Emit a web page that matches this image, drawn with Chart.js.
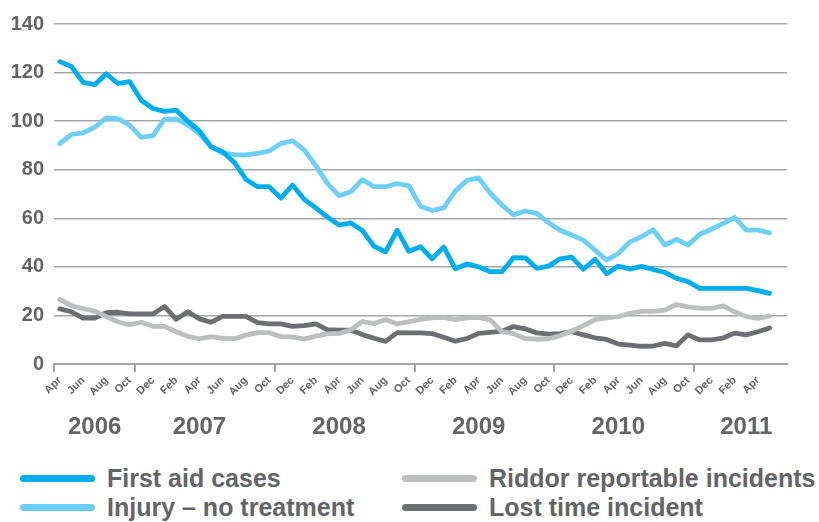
<!DOCTYPE html>
<html>
<head>
<meta charset="utf-8">
<script src="https://cdn.jsdelivr.net/npm/chart.js@4.4.0/dist/chart.umd.min.js"></script>
<style>
  html, body { margin: 0; padding: 0; background: #fff; }
  #wrap { position: relative; width: 819px; height: 522px; overflow: hidden; }
  #my-chart { position: absolute; left: 0; top: 0; }
  .legend-item {
    position: absolute; display: flex; align-items: center; height: 29px;
    font: bold 25px 'Liberation Sans', Arial, sans-serif; color: #636466; white-space: nowrap;
  }
  .legend-item .swatch { width: 75px; height: 7px; border-radius: 4px; margin-right: 12px; }
</style>
</head>
<body>
<div id="wrap">
  <canvas id="my-chart" width="819" height="440"></canvas>
  <div id="legend"></div>
</div>
<script>
'use strict';

// #pragma Data

let monthNames = ['Jan', 'Feb', 'Mar', 'Apr', 'May', 'Jun', 'Jul', 'Aug', 'Sep', 'Oct', 'Nov', 'Dec'];
let years = ['2006', '2007', '2008', '2009', '2010', '2011'];
let yearTickIndex = [3, 12, 24, 36, 48, 59];

let firstAid = [124.5, 122.5, 116, 115, 119.5, 115.5, 116.3, 108.6, 105.2, 104,
  104.5, 100, 96, 89.4, 87.4, 83, 76, 73, 73, 68.3,
  73.7, 67.8, 64.3, 60.5, 57.2, 58.1, 55, 48.5, 46.2, 55.1,
  46.4, 48.3, 43.3, 48.2, 39.2, 41.2, 40, 38, 38, 43.8,
  43.7, 39.4, 40.3, 43.3, 44, 39, 43.1, 37.2, 40.3, 39.1,
  40.2, 38.9, 37.7, 35.3, 33.9, 31.1, 31.1, 31.1, 31.1, 31.1,
  30.2, 29.1];

let injury = [90.8, 94.5, 95.2, 97.5, 101.3, 101, 98.4, 93.3, 94, 100.8,
  100.8, 98.5, 94.8, 89.5, 86.8, 86.2, 86.1, 86.7, 87.7, 90.8,
  91.9, 88.2, 81.7, 74.4, 69.3, 70.9, 75.9, 73, 73, 74.3,
  73.4, 65, 63.2, 64.3, 71.3, 75.6, 76.6, 70.3, 65.4, 61.4,
  63, 62, 58.2, 55.1, 53.1, 51, 46.9, 42.8, 45.5, 50.3,
  52.4, 55.3, 49, 51.3, 49, 53.4, 55.5, 57.8, 60.4, 55.1,
  55.1, 54];

let riddor = [26.6, 24, 22.8, 21.8, 19.5, 17.3, 16.2, 17.2, 15.5, 15.5,
  13.3, 11.4, 10.4, 11.3, 10.6, 10.4, 11.9, 12.9, 12.9, 11.2,
  11.2, 10.3, 11.5, 12.4, 12.6, 14, 17.5, 16.6, 18.3, 16.5,
  17.4, 18.4, 19, 19.2, 18.3, 19, 19.2, 18.1, 13.3, 12.5,
  10.5, 10.2, 10.4, 11.7, 13.5, 15.8, 18.3, 19, 19.5, 20.9,
  21.7, 21.7, 22.2, 24.5, 23.5, 23, 22.9, 23.9, 21.5, 19.5,
  18.8, 19.8];

let lostTime = [22.7, 21.5, 18.9, 18.9, 21.1, 21.3, 20.6, 20.6, 20.6, 23.7,
  18.4, 21.5, 18.6, 17.2, 19.6, 19.6, 19.6, 17, 16.5, 16.5,
  15.5, 15.8, 16.5, 14.1, 13.9, 13.9, 12.1, 10.6, 9.3, 12.9,
  12.8, 12.8, 12.5, 11, 9.4, 10.5, 12.6, 13, 13.5, 15.4,
  14.5, 12.8, 12.3, 12.5, 13.3, 12, 10.8, 10.1, 8.2, 7.8,
  7.3, 7.4, 8.5, 7.5, 12, 9.9, 9.9, 10.7, 12.7, 12,
  13.3, 14.8];

// #pragma Categories (Apr 2006 .. Jun 2011)

let monthLabels = [];
let yearLabels = [];
for (let i = 0; i < 63; i++) {
  monthLabels.push(monthNames[(3 + i) % 12]);
  yearLabels.push('');
}
for (let i = 0; i < years.length; i++) {
  yearLabels[yearTickIndex[i]] = years[i];
}

// year dividers sit between Oct and Nov
let dividerIndex = [0, 7, 19, 31, 43, 55, 63];
// the printed axis stops labelling at Apr 2011
let lastLabelIndex = 60;

// #pragma Styles

let textGrey = '#636466';
let gridGrey = '#a3a5a8';

let series = [
  { label: 'First aid cases', data: firstAid, color: '#00aeef' },
  { label: 'Injury – no treatment', data: injury, color: '#6dcff6' },
  { label: 'Riddor reportable incidents', data: riddor, color: '#bcbec0' },
  { label: 'Lost time incident', data: lostTime, color: '#6d6e71' },
];

function isDivider(ctx) {
  return dividerIndex.includes(ctx.index);
}

// #pragma Chart

let chartContext = document.getElementById('my-chart').getContext('2d');

let datasets = series.map(function (s) {
  return {
    label: s.label,
    data: s.data,
    borderColor: s.color,
    backgroundColor: s.color,
    borderWidth: 4.8,
    pointRadius: 0,
    tension: 0,
    borderJoinStyle: 'round',
    borderCapStyle: 'round',
  };
});

let chartConfig = {
  type: 'line',
  data: {
    labels: monthLabels,
    datasets: datasets,
  },
  options: {
    responsive: false,
    animation: false,
    layout: { padding: { top: 24, right: 32, bottom: 0, left: 0 } },
    plugins: {
      legend: { display: false },
      tooltip: { enabled: false },
    },
    scales: {
      x: {
        type: 'category',
        offset: true,
        weight: 0,
        border: { display: true, color: gridGrey, width: 2 },
        grid: {
          offset: true,
          drawOnChartArea: false,
          drawTicks: true,
          tickLength: 8,
          color: gridGrey,
          tickColor: gridGrey,
          lineWidth: function (ctx) { return isDivider(ctx) ? 2 : 0; },
          tickWidth: function (ctx) { return isDivider(ctx) ? 2 : 0; },
        },
        ticks: {
          autoSkip: false,
          minRotation: 45,
          maxRotation: 45,
          padding: 2,
          color: textGrey,
          font: { family: "'Liberation Sans', Arial, sans-serif", size: 11, weight: 'bold' },
          callback: function (value, index) {
            return (index % 2 === 0 && index <= lastLabelIndex) ? monthLabels[index] : '';
          },
        },
        afterFit: function (scale) { scale.height = 38; },
      },
      x2: {
        type: 'category',
        labels: yearLabels,
        position: 'bottom',
        offset: true,
        weight: 1,
        border: { display: false },
        grid: { display: false },
        ticks: {
          autoSkip: false,
          maxRotation: 0,
          minRotation: 0,
          padding: 3,
          color: textGrey,
          font: { family: "'Liberation Sans', Arial, sans-serif", size: 24, weight: 'bold' },
        },
        afterFit: function (scale) { scale.height = 38; },
      },
      y: {
        min: 0,
        max: 140,
        border: { display: false },
        grid: { color: gridGrey, lineWidth: 1.5, drawTicks: false },
        ticks: {
          stepSize: 20,
          padding: 10,
          color: textGrey,
          font: { family: "'Liberation Sans', Arial, sans-serif", size: 20, weight: 'bold' },
        },
        afterFit: function (scale) { scale.width = 54; },
      },
    },
  },
};

let myChart = new Chart(chartContext, chartConfig);

// #pragma Legend (two columns, like the printed key)

let legendBox = document.getElementById('legend');
let legendOrder = [0, 2, 1, 3];
let legendLeft = [20, 402];
let legendTop = [464, 493];

for (let k = 0; k < legendOrder.length; k++) {
  let s = series[legendOrder[k]];
  let item = document.createElement('div');
  item.className = 'legend-item';
  item.style.left = legendLeft[k % 2] + 'px';
  item.style.top = legendTop[Math.floor(k / 2)] + 'px';
  let swatch = document.createElement('span');
  swatch.className = 'swatch';
  swatch.style.background = s.color;
  let text = document.createElement('span');
  text.textContent = s.label;
  item.appendChild(swatch);
  item.appendChild(text);
  legendBox.appendChild(item);
}
</script>
</body>
</html>
